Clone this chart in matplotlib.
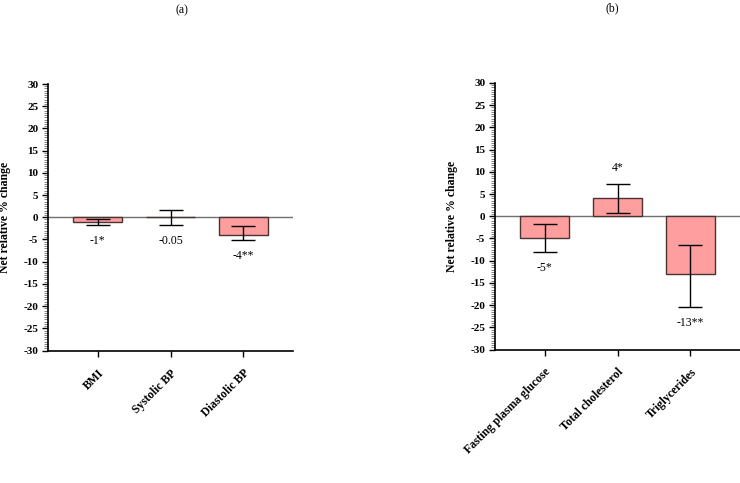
import numpy as np
import matplotlib
matplotlib.use('Agg')
import matplotlib.pyplot as plt
from matplotlib.ticker import MultipleLocator

# panel (a)
cats_a = ['BMI', 'Systolic BP', 'Diastolic BP']
vals_a = [-1.04, -0.05, -4.05]
err_lo_a = [0.66, 1.75, 1.0]
err_hi_a = [0.68, 1.65, 2.0]
labels_a = ['-1*', '-0.05', '-4**']

# panel (b)
cats_b = ['Fasting plasma glucose', 'Total cholesterol', 'Triglycerides']
vals_b = [-5.0, 4.0, -13.0]
err_lo_b = [3.0, 3.3, 7.4]
err_hi_b = [3.2, 3.2, 6.6]
labels_b = ['-5*', '4*', '-13**']

yticks = np.arange(-30, 31, 5)

plt.rcParams['font.family'] = ['Liberation Serif', 'DejaVu Serif']

fig = plt.figure(figsize=(7.4, 4.83), dpi=100)
W, H = 740, 483
ax_a = fig.add_axes([48 / W, 1 - 350.5 / H, 245 / W, 266.5 / H])
ax_b = fig.add_axes([495 / W, 1 - 349.5 / H, 245 / W, 266.5 / H])


def draw_panel(ax, cats, vals, lo, hi, labels):
    x = np.arange(len(cats))
    ax.bar(x, vals, width=0.67, color='#ff9e9e', edgecolor='#4a3333',
           linewidth=1.0, zorder=2)
    ax.errorbar(x, vals, yerr=[lo, hi], fmt='none', ecolor='black',
                elinewidth=1.0, capsize=8.5, capthick=1.0, zorder=3)
    ax.axhline(0, color='#707070', linewidth=1.0, zorder=1)
    for xi, v, l, h, t in zip(x, vals, lo, hi, labels):
        if v >= 0:
            ax.annotate(t, (xi, v + h), xytext=(0, 12), textcoords='offset points',
                        ha='center', va='center', fontsize=8.5)
        else:
            ax.annotate(t, (xi, v - l), xytext=(0, -11.5), textcoords='offset points',
                        ha='center', va='center', fontsize=8.5)
    ax.set_xlim(-0.68, 2.68)
    ax.set_ylim(-30, 30)
    ax.set_yticks(yticks)
    ax.set_yticklabels([str(v) for v in yticks], fontweight='bold', fontsize=8)
    ax.yaxis.set_minor_locator(MultipleLocator(0.5))
    ax.tick_params(axis='y', which='major', length=4, width=1, pad=3)
    ax.tick_params(axis='y', which='minor', length=3, width=0.5, color='#555555')
    ax.set_xticks(x)
    ax.set_xticklabels(cats, rotation=45, ha='right', va='top',
                       rotation_mode='anchor', fontweight='bold', fontsize=8.5)
    ax.tick_params(axis='x', length=4, width=1, pad=8)
    for s in ['top', 'right']:
        ax.spines[s].set_visible(False)
    for s in ['left', 'bottom']:
        ax.spines[s].set_linewidth(1.2)
    ax.set_ylabel('Net relative % change', fontweight='bold', fontsize=8.5)
    ax.yaxis.set_label_coords(-37 / 245, 0.5)


draw_panel(ax_a, cats_a, vals_a, err_lo_a, err_hi_a, labels_a)
draw_panel(ax_b, cats_b, vals_b, err_lo_b, err_hi_b, labels_b)

fig.text(182 / W, 1 - 10 / H, '(a)', ha='center', va='center', fontsize=8.5)
fig.text(612 / W, 1 - 8 / H, '(b)', ha='center', va='center', fontsize=8.5)

fig.savefig('out.png', dpi=100)
